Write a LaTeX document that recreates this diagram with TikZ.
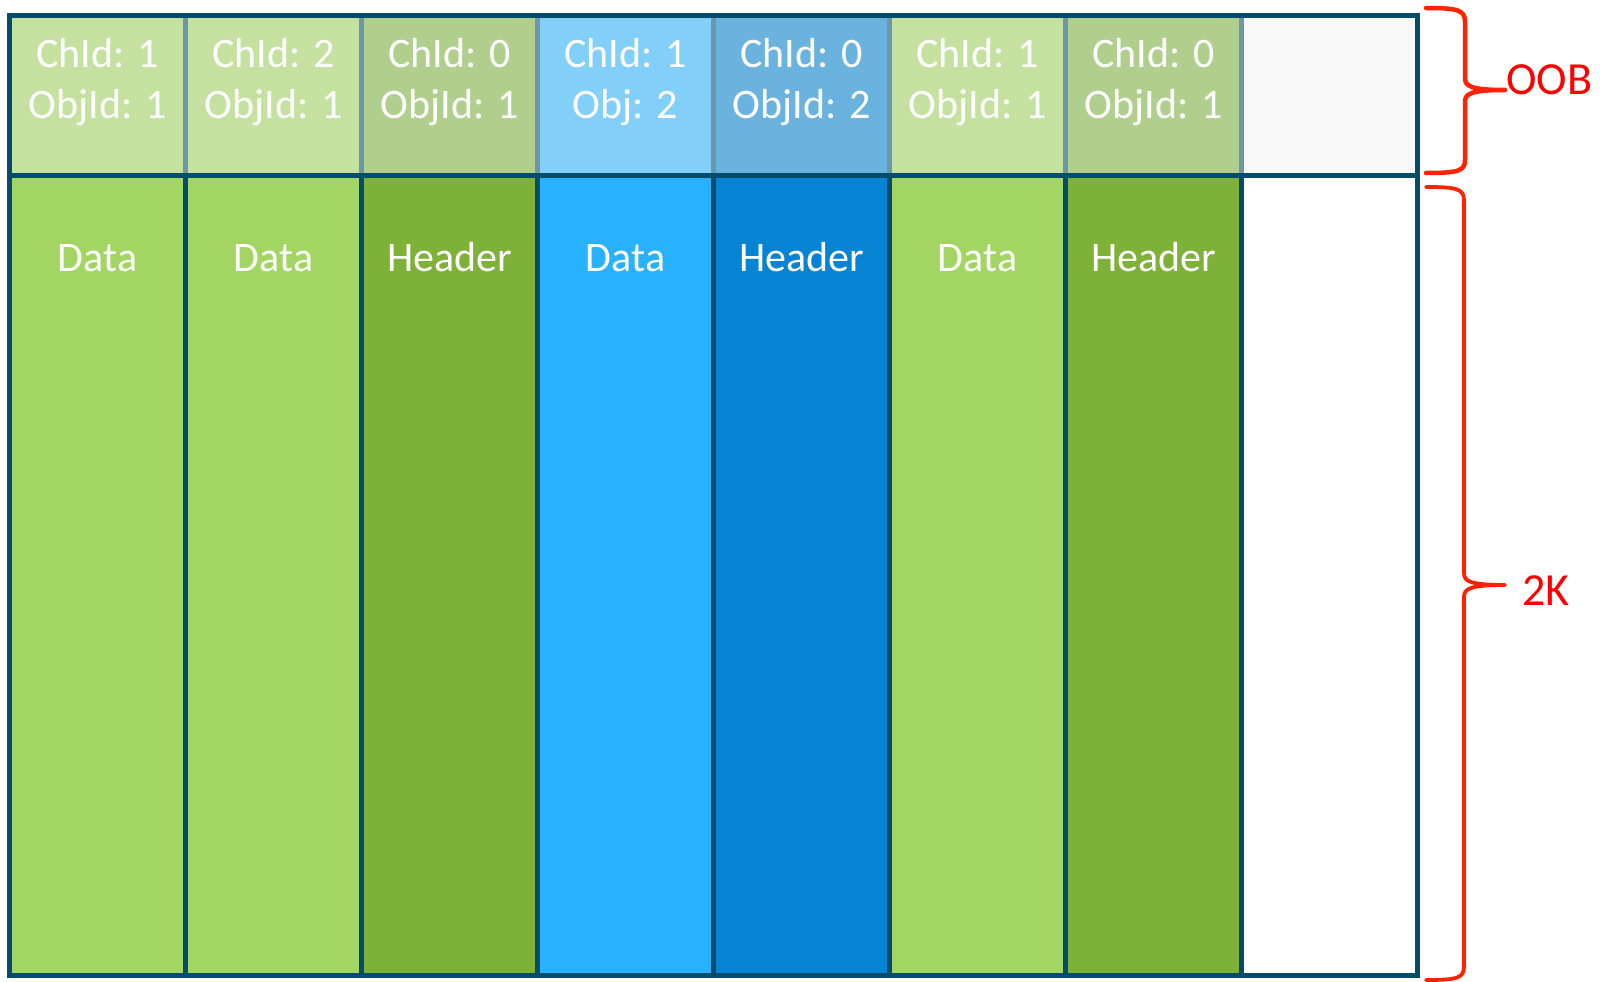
\documentclass[tikz,border=0pt]{standalone}
\usepackage{fontspec}
\setmainfont{Carlito}
\definecolor{frame}{HTML}{044C6B}
\definecolor{oobline}{HTML}{6C97A9}
\definecolor{dgreen}{HTML}{A2D562}
\definecolor{hgreen}{HTML}{7EB137}
\definecolor{dblue}{HTML}{28B1FE}
\definecolor{hblue}{HTML}{0484D2}
\definecolor{odgreen}{HTML}{C5E1A0}
\definecolor{ohgreen}{HTML}{B0CF8C}
\definecolor{odblue}{HTML}{82CFF9}
\definecolor{ohblue}{HTML}{6BB3DF}
\definecolor{oempty}{HTML}{F8F8F8}
\definecolor{bracered}{HTML}{FF2200}
\tikzset{
  celltext/.style={text=white, font=\fontsize{42}{50}\selectfont, anchor=base, inner sep=0pt},
  bracetext/.style={text=red, font=\fontsize{46}{54}\selectfont, anchor=base west, inner sep=0pt},
  bracestyle/.style={draw=bracered, line width=4.5pt, line cap=round, line join=round},
  frameline/.style={draw=frame, line width=5pt},
  oobsep/.style={draw=oobline, line width=5pt},
}
\begin{document}
\begin{tikzpicture}[x=1pt,y=-1pt]
\useasboundingbox (0,0) rectangle (1612,982);
% column fills
\foreach \i/\oc/\dc in {0/odgreen/dgreen,1/odgreen/dgreen,2/ohgreen/hgreen,3/odblue/dblue,4/ohblue/hblue,5/odgreen/dgreen,6/ohgreen/hgreen,7/oempty/white}{
  \fill[\oc] ({9.5+176*\i},15.5) rectangle ({9.5+176*(\i+1)},175.5);
  \fill[\dc] ({9.5+176*\i},175.5) rectangle ({9.5+176*(\i+1)},975.5);
}
% separators
\foreach \i in {1,...,7}{
  \draw[oobsep] ({9.5+176*\i},15.5) -- ({9.5+176*\i},175.5);
  \draw[frameline] ({9.5+176*\i},175.5) -- ({9.5+176*\i},975.5);
}
\draw[frameline] (9.5,175.5) -- (1417.5,175.5);
\draw[frameline, line join=miter] (9.5,15.5) rectangle (1417.5,975.5);
% OOB texts
\foreach \i/\a/\b in {0/ChId: 1/ObjId: 1,1/ChId: 2/ObjId: 1,2/ChId: 0/ObjId: 1,3/ChId: 1/Obj: 2,4/ChId: 0/ObjId: 2,5/ChId: 1/ObjId: 1,6/ChId: 0/ObjId: 1}{
  \node[celltext] (oa\i) at ({97.5+176*\i},68) {\a};
  \node[celltext] (ob\i) at ({97.5+176*\i},118) {\b};
}
% data texts
\foreach \i/\t in {0/Data,1/Data,2/Header,3/Data,4/Header,5/Data,6/Header}{
  \node[celltext] (d\i) at ({97.5+176*\i},271) {\t};
}
% braces
\draw[bracestyle] (1426,8) .. controls (1458,8) and (1465,10) .. (1465,22) -- (1465,78)
  .. controls (1465,86) and (1470,90) .. (1505,90)
  .. controls (1470,90) and (1465,94) .. (1465,102) -- (1465,160)
  .. controls (1465,171) and (1458,173) .. (1426,173);
\draw[bracestyle, line width=3.8pt] (1426,187) .. controls (1458,187) and (1464,189) .. (1464,201) -- (1464,573)
  .. controls (1464,581) and (1469,585) .. (1505,585)
  .. controls (1469,585) and (1464,589) .. (1464,597) -- (1464,966)
  .. controls (1464,978) and (1458,980) .. (1426,980);
\node[bracetext] (oob) at (1506,95) {OOB};
\node[bracetext] (twok) at (1522,605) {2K};
\end{tikzpicture}
\end{document}
